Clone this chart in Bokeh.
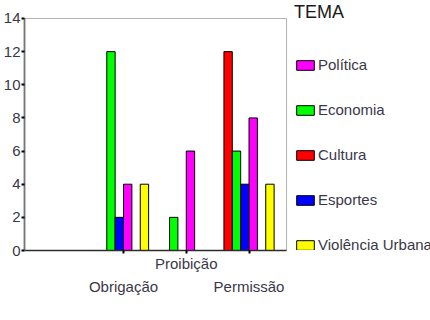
from bokeh.plotting import figure
from bokeh.models import Range1d, LinearAxis, FixedTicker, Legend, LegendItem, ColumnDataSource, BoxAnnotation
from bokeh.embed import file_html
from bokeh.resources import INLINE

categories = ["Obrigação", "Proibição", "Permissão"]
cultura = [0, 0, 12]
economia = [12, 2, 6]
esportes = [2, 0, 4]
politica = [4, 6, 8]
violencia = [4, 0, 4]

# slot order of the bars inside each group (slot 4 is empty in the original)
bar_series = [
    ("Cultura", cultura, "#FF0000", 0),
    ("Economia", economia, "#00FF00", 1),
    ("Esportes", esportes, "#0000FF", 2),
    ("Política", politica, "#FF00FF", 3),
    ("Violência Urbana", violencia, "#FFFF00", 5),
]
legend_order = ["Política", "Economia", "Cultura", "Esportes", "Violência Urbana"]
y_ticks = [0, 2, 4, 6, 8, 10, 12, 14]

FONT = "Liberation Sans"
TXT = "#3a3848"
n_slots = 6
slot_w = 0.8 / n_slots

# plot box limits (data space) and the wider frame that also holds the legend
box_x0, box_x1 = -0.578, 3.598
box_y1 = y_ticks[-1]
frame_x1 = 5.892
frame_y1 = 15.086

p = figure(width=430, height=320, x_range=Range1d(box_x0, frame_x1), y_range=Range1d(0, frame_y1),
           output_backend="svg", toolbar_location=None,
           min_border_left=24, min_border_right=0, min_border_top=0, min_border_bottom=70)
p.xgrid.grid_line_color = None
p.ygrid.grid_line_color = None
p.outline_line_color = None
p.background_fill_color = "white"
p.border_fill_color = "white"

p.add_layout(BoxAnnotation(left=box_x0, right=box_x1, bottom=0, top=box_y1,
                           fill_alpha=0, line_color="black", line_width=1))

renderers = {}
for name, vals, color, slot in bar_series:
    xs, tops = [], []
    for i, v in enumerate(vals):
        if v > 0:
            xs.append(i + 1 + (slot - (n_slots - 1) / 2) * slot_w)
            tops.append(v)
    src = ColumnDataSource(dict(x=xs, top=tops))
    r = p.vbar(x="x", top="top", width=slot_w, source=src, fill_color=color,
               line_color="black", line_width=1)
    renderers[name] = r

# y axis
p.yaxis.ticker = FixedTicker(ticks=y_ticks)
p.yaxis.bounds = (0, box_y1)
p.yaxis.minor_tick_line_color = None
p.yaxis.major_tick_in = 0
p.yaxis.major_tick_out = 3
p.yaxis.major_tick_line_width = 2
p.yaxis.major_tick_line_color = "black"
p.yaxis.axis_line_color = "#8a8a8a"
p.yaxis.axis_line_width = 2
p.yaxis.major_label_standoff = 1
p.yaxis.major_label_text_font = FONT
p.yaxis.major_label_text_font_size = "15px"
p.yaxis.major_label_text_color = TXT

# x axis (first row: Proibição)
xt = list(range(1, len(categories) + 1))
p.xaxis.ticker = FixedTicker(ticks=xt)
p.xaxis.bounds = (box_x0, box_x1)
p.xaxis.major_label_overrides = {1: " ", 2: categories[1], 3: " "}
p.xaxis.minor_tick_line_color = None
p.xaxis.major_tick_in = 0
p.xaxis.major_tick_out = 3
p.xaxis.major_tick_line_width = 2
p.xaxis.major_tick_line_color = "black"
p.xaxis.axis_line_color = "#333333"
p.xaxis.axis_line_width = 1.5
p.xaxis.major_label_standoff = 1
p.xaxis.major_label_text_font = FONT
p.xaxis.major_label_text_font_size = "15px"
p.xaxis.major_label_text_color = TXT

# x axis second row: Obrigação / Permissão
ax2 = LinearAxis(ticker=FixedTicker(ticks=xt), bounds=(box_x0, box_x1),
                 major_label_overrides={1: categories[0], 2: " ", 3: categories[2]})
ax2.axis_line_color = None
ax2.major_tick_line_color = None
ax2.minor_tick_line_color = None
ax2.major_tick_out = 0
ax2.major_tick_in = 0
ax2.major_label_standoff = 3
ax2.major_label_text_font = FONT
ax2.major_label_text_font_size = "15px"
ax2.major_label_text_color = TXT
p.add_layout(ax2, "below")

legend = Legend(items=[LegendItem(label=n, renderers=[renderers[n]]) for n in legend_order],
                title="TEMA", location=(270, -3))
legend.border_line_color = None
legend.background_fill_alpha = 0
legend.padding = 0
legend.margin = 0
legend.glyph_width = 22
legend.glyph_height = 12
legend.label_standoff = 2
legend.spacing = 28
legend.label_height = 14
legend.label_text_font = FONT
legend.label_text_font_size = "15px"
legend.label_text_color = TXT
legend.title_text_font = FONT
legend.title_text_font_size = "18px"
legend.title_text_font_style = "normal"
legend.title_text_color = "#1a1a1a"
legend.title_standoff = 33
p.add_layout(legend, "center")

open("out.html", "w").write(file_html(p, INLINE))
